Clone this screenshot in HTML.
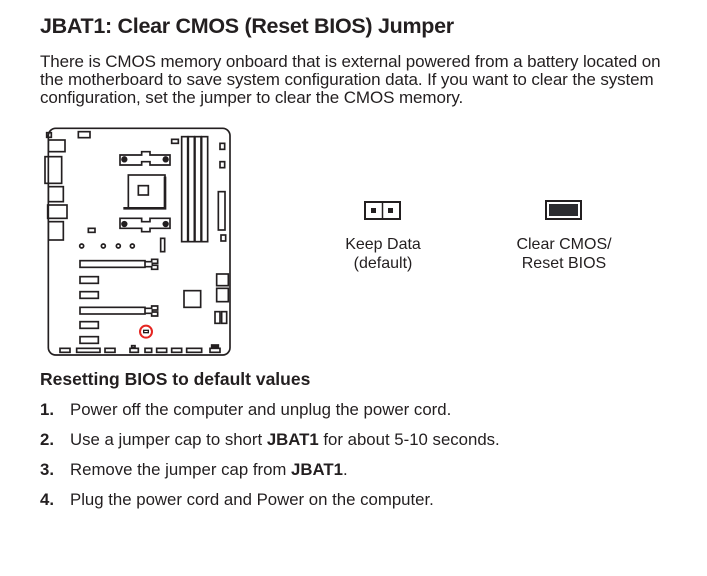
<!DOCTYPE html>
<html><head><style>
body{margin:0;width:707px;height:576px;background:#fff;position:relative;font-family:"Liberation Sans",sans-serif;color:#231f20;overflow:hidden}
.a{position:absolute;white-space:nowrap}
h1{position:absolute;left:40px;top:14px;margin:0;font-size:21.5px;font-weight:bold;letter-spacing:-0.3px}
.p{left:40px;top:53px;font-size:17px;line-height:18px;letter-spacing:-0.1px}
.c{text-align:center;font-size:16px;line-height:19px;transform:translateX(-50%)}
.h2{left:40px;top:369px;font-size:17.5px;font-weight:bold}
.li{left:40px;font-size:16.8px}
.li b.n{display:inline-block;width:30px}
</style></head><body>
<h1>JBAT1: Clear CMOS (Reset BIOS) Jumper</h1>
<div class="a p">There is CMOS memory onboard that is external powered from a battery located on<br>the motherboard to save system configuration data. If you want to clear the system<br>configuration, set the jumper to clear the CMOS memory.</div>

<svg class="a" style="left:35px;top:120px" width="205" height="245" viewBox="0 0 615 735" fill="none" stroke="#231f20" stroke-width="5">
<rect x="40" y="25" width="545" height="680" rx="22"/>
<rect x="35" y="38" width="14" height="14"/><rect x="130" y="35" width="35" height="18"/>
<rect x="40" y="60" width="50" height="35"/><rect x="30" y="110" width="50" height="80"/>
<rect x="40" y="200" width="45" height="45"/><rect x="38" y="255" width="58" height="40"/>
<rect x="40" y="305" width="45" height="55"/>
<rect x="410" y="58" width="20" height="12"/>
<rect x="440" y="50" width="18" height="315"/><rect x="460" y="50" width="18" height="315"/><rect x="480" y="50" width="18" height="315"/><rect x="500" y="50" width="18" height="315"/>
<rect x="555" y="70" width="14" height="18"/><rect x="555" y="125" width="14" height="18"/><rect x="550" y="215" width="20" height="115"/><rect x="558" y="345" width="14" height="18"/>
<rect x="280" y="165" width="110" height="100"/><rect x="310" y="197" width="30" height="28"/>
<path d="M265 265H390V170" stroke-width="8"/>
<path d="M255 105H320V95H345V105H405V135H345V125H320V135H255Z"/>
<circle cx="268" cy="118" r="7" fill="#231f20"/><circle cx="392" cy="118" r="7" fill="#231f20"/>
<path d="M255 295H320V305H345V295H405V325H345V335H320V325H255Z"/>
<circle cx="268" cy="312" r="7" fill="#231f20"/><circle cx="392" cy="312" r="7" fill="#231f20"/>
<rect x="160" y="325" width="20" height="12"/>
<circle cx="140" cy="378" r="6"/><circle cx="205" cy="378" r="6"/><circle cx="250" cy="378" r="6"/><circle cx="292" cy="378" r="6"/>
<rect x="377" y="355" width="12" height="40"/>
<rect x="135" y="422" width="195" height="20"/><path d="M330 425H350V418H368V430H352V436H368V448H350V440H330"/>
<rect x="135" y="470" width="55" height="20"/><rect x="135" y="515" width="55" height="20"/>
<rect x="135" y="562" width="195" height="20"/><path d="M330 565H350V558H368V570H352V576H368V588H350V580H330"/>
<rect x="135" y="605" width="55" height="20"/><rect x="135" y="650" width="55" height="20"/>
<circle cx="333" cy="635" r="18" stroke="#e52521" stroke-width="6"/><rect x="326" y="631" width="14" height="7" stroke-width="4"/>
<rect x="545" y="462" width="35" height="35"/><rect x="545" y="505" width="35" height="40"/><rect x="447" y="512" width="50" height="50"/>
<rect x="540" y="575" width="15" height="35"/><rect x="560" y="575" width="15" height="35"/>
<rect x="75" y="685" width="30" height="12"/><rect x="125" y="685" width="70" height="12"/><rect x="210" y="685" width="30" height="12"/>
<rect x="285" y="685" width="25" height="12"/><rect x="290" y="677" width="10" height="6"/><rect x="330" y="685" width="20" height="12"/>
<rect x="365" y="685" width="30" height="12"/><rect x="410" y="685" width="30" height="12"/><rect x="455" y="685" width="45" height="12"/>
<rect x="525" y="685" width="30" height="12"/><rect x="530" y="675" width="20" height="5"/>
</svg>

<svg class="a" style="left:364px;top:201px" width="38" height="20"><rect x="1" y="1" width="35" height="17" fill="#fff" stroke="#231f20" stroke-width="2"/><line x1="18.5" y1="1" x2="18.5" y2="18" stroke="#231f20" stroke-width="1.5"/><rect x="7" y="7" width="5" height="5" fill="#231f20"/><rect x="24" y="7" width="5" height="5" fill="#231f20"/></svg>
<svg class="a" style="left:545px;top:200px" width="38" height="21"><rect x="1" y="1" width="35" height="18" fill="#fff" stroke="#231f20" stroke-width="2"/><rect x="4" y="4" width="29" height="12" fill="#2b2b2f"/></svg>
<div class="a c" style="left:383px;top:235px">Keep Data<br>(default)</div>
<div class="a c" style="left:564px;top:235px">Clear CMOS/<br>Reset BIOS</div>

<div class="a h2">Resetting BIOS to default values</div>
<div class="a li" style="top:400px"><b class="n">1.</b>Power off the computer and unplug the power cord.</div>
<div class="a li" style="top:430px"><b class="n">2.</b>Use a jumper cap to short <b>JBAT1</b> for about 5-10 seconds.</div>
<div class="a li" style="top:460px"><b class="n">3.</b>Remove the jumper cap from <b>JBAT1</b>.</div>
<div class="a li" style="top:490px"><b class="n">4.</b>Plug the power cord and Power on the computer.</div>
</body></html>
